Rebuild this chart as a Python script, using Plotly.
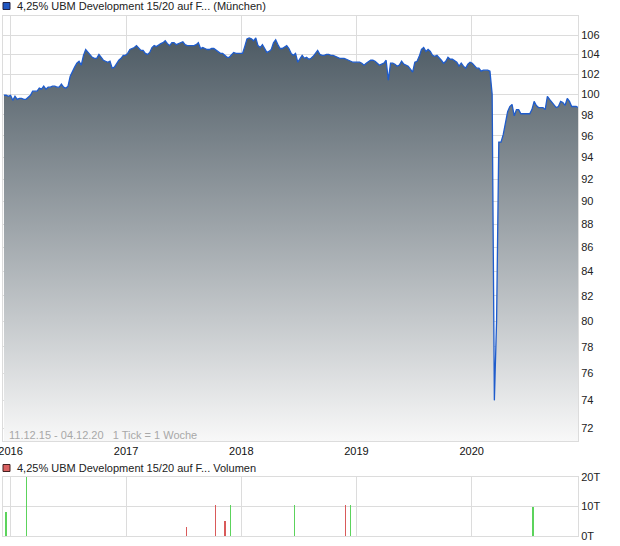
import math
import pandas as pd
import plotly.graph_objects as go

# ---------------- data ----------------
start_date = "2015-12-11"
range_start = "2015-12-08"
range_end = "2020-12-03"

# weekly closing prices (1 Tick = 1 Woche), 11.12.15 - 04.12.20
prices = [
    99.9, 99.9, 99.8, 99.9, 99.4, 99.8, 99.5, 99.6, 99.6, 99.5,
    99.5, 99.7, 99.9, 100.3, 100.3, 100.3, 100.6, 100.5, 100.8, 100.5,
    100.7, 100.7, 100.8, 100.8, 100.7, 100.7, 101.0, 100.7, 100.6, 100.8,
    101.8, 102.3, 102.7, 103.1, 103.3, 102.9, 103.9, 104.5, 104.2, 104.0,
    103.7, 103.6, 103.6, 104.0, 103.7, 103.4, 103.3, 103.2, 103.3, 102.6,
    102.7, 103.1, 103.4, 103.6, 103.9, 103.9, 104.1, 104.5, 104.6, 104.7,
    104.9, 104.6, 104.4, 104.4, 104.1, 104.0, 104.2, 104.7, 104.9, 104.8,
    105.0, 105.1, 105.2, 105.4, 105.1, 104.9, 105.2, 105.2, 105.0, 105.1,
    105.2, 105.3, 105.0, 104.9, 104.9, 104.9, 104.9, 105.0, 105.2, 104.6,
    104.7, 104.6, 104.5, 104.5, 104.6, 104.6, 104.4, 104.2, 104.1, 104.1,
    103.9, 103.7, 103.7, 103.9, 104.2, 104.1, 104.1, 104.1, 104.1, 104.8,
    105.6, 105.7, 105.6, 105.4, 105.7, 104.9, 104.7, 105.0, 104.6, 104.2,
    104.3, 104.5, 105.2, 105.5, 105.0, 104.6, 104.6, 104.8, 104.9, 104.6,
    104.1, 103.9, 104.1, 103.2, 103.6, 103.9, 103.6, 103.7, 103.5, 103.6,
    103.8, 104.1, 104.4, 104.0, 103.9, 103.9, 104.0, 104.0, 103.9, 103.9,
    103.8, 103.7, 103.6, 103.6, 103.6, 103.5, 103.4, 103.3, 103.2, 103.2,
    103.2, 103.2, 103.1, 102.9, 103.1, 103.3, 103.4, 103.4, 103.3, 103.1,
    102.9, 103.0, 103.1, 103.4, 101.4, 103.1, 103.1, 103.0, 102.8, 102.9,
    103.3, 103.0, 102.9, 102.8, 102.5, 102.2, 103.2, 103.3, 103.8, 104.5,
    104.7, 104.3, 104.5, 104.3, 103.9, 103.8, 103.9, 103.7, 103.4, 103.1,
    103.3, 103.7, 103.5, 103.5, 103.3, 103.2, 102.8, 103.1, 102.8, 102.6,
    103.0, 103.2, 103.1, 102.8, 102.6, 102.6, 102.3, 102.4, 102.4, 102.4,
    102.3, 100.0, 74.0, 80.0, 95.4, 95.4, 96.1, 97.3, 98.3, 98.8,
    99.0, 97.9, 98.5, 98.5, 98.1, 98.1, 98.1, 98.1, 98.1, 98.5,
    99.3, 98.9, 98.7, 98.7, 98.7, 98.5, 99.8, 99.5, 99.2, 99.0,
    98.7, 98.8, 99.3, 99.2, 98.9, 99.6, 99.3, 98.8, 98.8, 98.8,
    98.7,
]
dates = pd.date_range(start_date, periods=len(prices), freq="7D")

vol_dates = ["2015-12-17", "2016-02-21", "2017-07-12", "2017-10-12", "2017-11-10",
             "2017-11-28", "2018-06-19", "2018-11-27", "2018-12-13", "2020-07-14"]
vol_values = [8000, 22000, 3000, 10500, 5000, 10500, 10500, 10500, 10500, 10000]
vol_direction = ["up", "up", "down", "down", "down", "up", "up", "down", "up", "up"]

price_ticks = list(range(72, 108, 2))
year_ticks = ["2016-01-01", "2017-01-01", "2018-01-01", "2019-01-01", "2020-01-01"]
year_labels = ["2016", "2017", "2018", "2019", "2020"]
vol_ticks = [0, 10000, 20000]
vol_tick_labels = ["0T", "10T", "20T"]

title_main = "4,25% UBM Development 15/20 auf F... (München)"
title_vol = "4,25% UBM Development 15/20 auf F... Volumen"
info_text = "11.12.15 - 04.12.20   1 Tick = 1 Woche"

# ---------------- styling ----------------
W, H = 620, 546
FONT = "Liberation Sans, Arial, sans-serif"
GRID = "#dcdcdc"
LINE_BLUE = "#1f5ccc"
UP = "#5cd35c"
DOWN = "#d95a5a"


def px(x):
    return x / W


def py(y):
    return 1 - y / H


fig = go.Figure()

# baseline for the area fill (below the visible range)
fig.add_trace(go.Scatter(
    x=dates, y=[60] * len(dates), mode="lines", line=dict(width=0),
    hoverinfo="skip", showlegend=False, xaxis="x", yaxis="y"))

fig.add_trace(go.Scatter(
    x=dates, y=prices, mode="lines", fill="tonexty",
    line=dict(color=LINE_BLUE, width=1.3),
    fillgradient=dict(type="vertical", start=71.1, stop=108,
                      colorscale=[[0, "#f8f8f8"], [1, "#44525c"]]),
    showlegend=False, xaxis="x", yaxis="y"))

fig.add_trace(go.Bar(
    x=vol_dates, y=vol_values,
    marker=dict(color=[UP if d == "up" else DOWN for d in vol_direction], line=dict(width=0)),
    width=4.5 * 86400000, showlegend=False, xaxis="x2", yaxis="y2"))

main_dom = [py(441), py(16)]
vol_dom = [py(536), py(477)]
x_dom = [px(3), px(578)]

axis_common = dict(showgrid=True, gridcolor=GRID, gridwidth=1, showline=True,
                   linecolor=GRID, linewidth=1, mirror=True, zeroline=False, ticks="",
                   automargin=False)

fig.update_layout(
    width=W, height=H, margin=dict(l=0, r=0, t=0, b=0, pad=0),
    paper_bgcolor="white", plot_bgcolor="white",
    font=dict(family=FONT, size=11, color="#222222"),
    bargap=0,
    xaxis=dict(domain=x_dom, anchor="y", type="date", range=[range_start, range_end],
               tickmode="array", tickvals=year_ticks, ticktext=year_labels,
               ticklabeloverflow="allow",
               tickfont=dict(size=11, color="#111111"), **axis_common),
    yaxis=dict(domain=main_dom, anchor="x", type="log", side="right",
               range=[math.log10(71.1), math.log10(108)],
               tickmode="array", tickvals=price_ticks, ticktext=[str(v) for v in price_ticks],
               ticklabeloverflow="allow",
               tickfont=dict(size=11, color="#222222"), **axis_common),
    xaxis2=dict(domain=x_dom, anchor="y2", type="date", range=[range_start, range_end],
                matches="x", tickmode="array", tickvals=year_ticks, showticklabels=False,
                **axis_common),
    yaxis2=dict(domain=vol_dom, anchor="x2", side="right", range=[0, 20000],
                tickmode="array", tickvals=vol_ticks, ticktext=vol_tick_labels,
                ticklabeloverflow="allow",
                tickfont=dict(size=11, color="#222222"), **axis_common),
)

# legend squares
fig.add_shape(type="rect", xref="paper", yref="paper",
              x0=px(3), x1=px(10), y0=py(9.5), y1=py(2.5),
              fillcolor="#1f57c3", line=dict(color="#222244", width=1))
fig.add_shape(type="rect", xref="paper", yref="paper",
              x0=px(3), x1=px(10), y0=py(471.5), y1=py(464.5),
              fillcolor="#d96060", line=dict(color="#442222", width=1))

fig.add_annotation(x=px(15), y=py(6), xref="paper", yref="paper", text=title_main,
                   showarrow=False, xanchor="left", yanchor="middle",
                   font=dict(size=11, color="#222222", family=FONT))
fig.add_annotation(x=px(15), y=py(468), xref="paper", yref="paper", text=title_vol,
                   showarrow=False, xanchor="left", yanchor="middle",
                   font=dict(size=11, color="#222222", family=FONT))
fig.add_annotation(x=px(7), y=py(435), xref="paper", yref="paper", text=info_text,
                   showarrow=False, xanchor="left", yanchor="middle",
                   font=dict(size=11, color="#a8a8a8", family=FONT))

fig.write_html("out.html",
               config={"displayModeBar": False, "staticPlot": True},
               post_script="document.body.style.margin='0px';document.body.style.overflow='hidden';")
